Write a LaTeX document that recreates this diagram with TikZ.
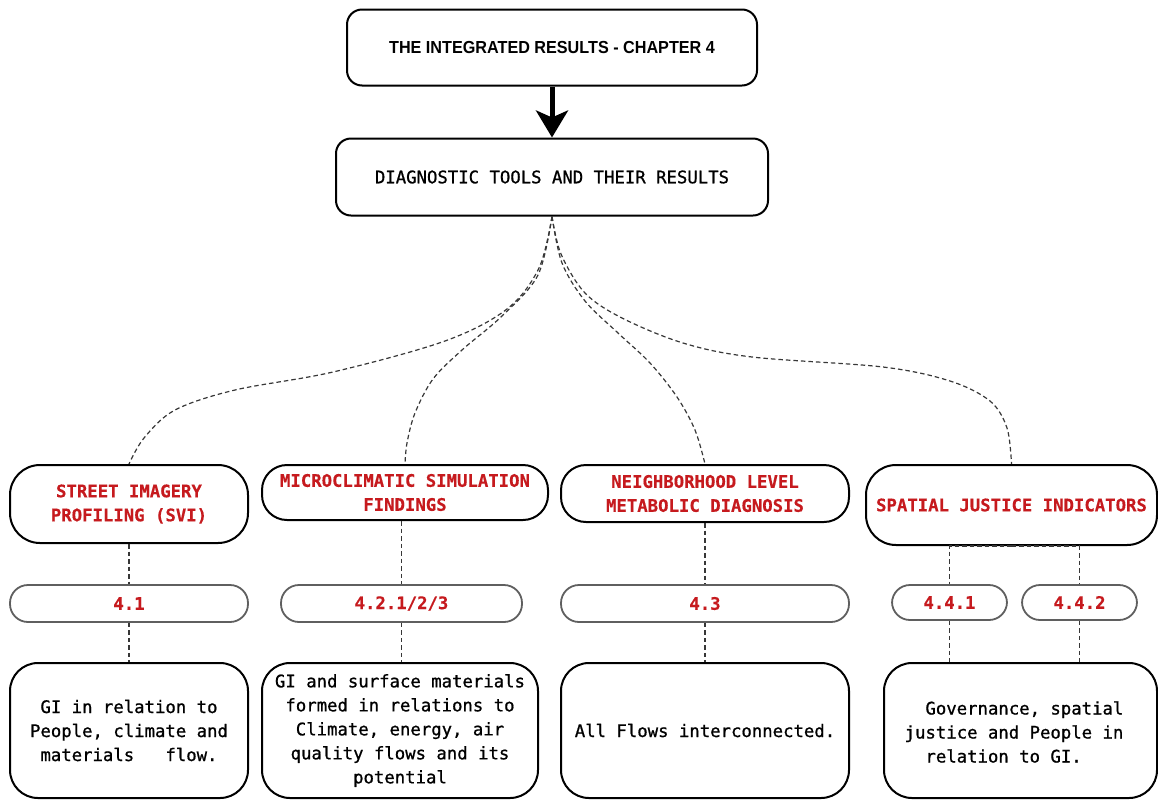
\documentclass[tikz,border=0pt]{standalone}
\usepackage{fontspec}
\setmonofont{DejaVu Sans Mono}[FakeBold=0.9, BoldFeatures={FakeBold=0.3}]
\newfontfamily\headfont{Liberation Sans}
\usetikzlibrary{arrows.meta}

\definecolor{labelred}{RGB}{198,26,30}
\definecolor{pillgray}{RGB}{95,95,95}
\definecolor{dashgray}{RGB}{55,55,55}

\begin{document}
\begin{tikzpicture}[x=1pt, y=-1pt,
  monotext/.style={font=\ttfamily\fontsize{17.3}{24}\selectfont},
  framebox/.style={draw=black, line width=2pt, fill=white, inner sep=0pt,
    align=center, monotext},
  toolbox/.style={framebox, text=labelred, font=\ttfamily\bfseries\fontsize{17.3}{24}\selectfont},
  pill/.style={draw=pillgray, line width=1.8pt, fill=white, inner sep=0pt,
    minimum height=37pt, rounded corners=18pt, text=labelred,
    font=\ttfamily\bfseries\fontsize{17.3}{24}\selectfont},
  conn/.style={draw=dashgray, line width=1.2pt, dash pattern=on 4.5pt off 3pt}
]
\useasboundingbox (0,0) rectangle (1158,801);

% --- header boxes ---------------------------------------------------------
\node[framebox, minimum width=410pt, minimum height=76pt, rounded corners=15pt,
      font=\headfont\bfseries\fontsize{17.4}{20}\selectfont]
  (title) at (552,47.5) {\scalebox{0.93}[1]{THE INTEGRATED RESULTS - CHAPTER 4}};
\node[framebox, minimum width=432pt, minimum height=77pt, rounded corners=15pt]
  (diag) at (552,177) {DIAGNOSTIC TOOLS AND THEIR RESULTS};

\draw[line width=5pt, -{Stealth[length=27pt, width=32pt, inset=7pt]}]
  (title.south) -- (diag.north);

% --- diagnostic tools -----------------------------------------------------
\node[toolbox, minimum width=238pt, minimum height=78pt, rounded corners=30pt]
  (svi) at (129,504) {STREET IMAGERY\\PROFILING (SVI)};
\node[toolbox, minimum width=286pt, minimum height=55pt, rounded corners=25pt]
  (micro) at (405,492.5) {MICROCLIMATIC SIMULATION\\FINDINGS};
\node[toolbox, minimum width=288pt, minimum height=57pt, rounded corners=25pt]
  (neigh) at (705,493.5) {NEIGHBORHOOD LEVEL\\METABOLIC DIAGNOSIS};
\node[toolbox, minimum width=291pt, minimum height=80pt, rounded corners=30pt]
  (spatial) at (1011.5,505) {SPATIAL JUSTICE INDICATORS};

% --- chapter sections -----------------------------------------------------
\node[pill, minimum width=238pt] (p41)  at (129,603.5)   {4.1};
\node[pill, minimum width=241pt] (p42)  at (401.5,603.5) {4.2.1/2/3};
\node[pill, minimum width=288pt] (p43)  at (705,603.5)   {4.3};
\node[pill, minimum width=115pt, minimum height=35pt] (p441) at (949.5,602.5)  {4.4.1};
\node[pill, minimum width=115pt, minimum height=35pt] (p442) at (1079.5,602.5) {4.4.2};

% --- results --------------------------------------------------------------
\node[framebox, minimum width=238pt, minimum height=135pt, rounded corners=28pt]
  (b1) at (129,730.5) {GI in relation to\\People, climate and\\materials\ \ \ flow.};
\node[framebox, minimum width=276pt, minimum height=135pt, rounded corners=28pt]
  (b2) at (400,730.5) {GI and surface materials\\formed in relations to\\Climate, energy, air\\quality flows and its\\potential};
\node[framebox, minimum width=288pt, minimum height=135pt, rounded corners=28pt]
  (b3) at (705,730.5) {All Flows interconnected.};
\node[framebox, minimum width=273pt, minimum height=135pt, rounded corners=28pt]
  (b4) at (1020.5,730.5) {};
\node[monotext, align=left, inner sep=0pt] (b4txt) at (1014,732)
  {\phantom{xx}Governance, spatial\\justice and People in\\\phantom{xx}relation to GI.};

% --- connectors -----------------------------------------------------------
\draw[conn] plot[smooth, tension=0.55] coordinates {(diag.south) (539,268) (507,309)
  (445,341) (333,372) (235,390) (175,410) (144,438) (svi.north)};
\draw[conn] plot[smooth, tension=0.55] coordinates {(diag.south) (538,275) (502,316)
  (462,350) (433,379) (415,413) (407,443) (micro.north)};
\draw[conn] plot[smooth, tension=0.55] coordinates {(diag.south) (562,263) (585,301)
  (618,333) (650,363) (677,397) (695,430) (neigh.north)};
\draw[conn] plot[smooth, tension=0.55] coordinates {(diag.south) (561,254) (585,293)
  (622,318) (683,343) (752,357) (883,367) (950,381) (990,401) (1007,428) (spatial.north)};

\draw[conn] (svi.south -| p41.north) -- (p41.north);
\draw[conn] (p41.south) -- (b1.north -| p41.south);
\draw[conn] (micro.south -| p42.north) -- (p42.north);
\draw[conn] (p42.south) -- (b2.north -| p42.south);
\draw[conn] (neigh.south) -- (p43.north);
\draw[conn] (p43.south) -- (b3.north);
\draw[conn] (spatial.south) -| (p441.north);
\draw[conn] (spatial.south) -| (p442.north);
\draw[conn] (p441.south) -- (b4.north -| p441.south);
\draw[conn] (p442.south) -- (b4.north -| p442.south);
\end{tikzpicture}
\end{document}
